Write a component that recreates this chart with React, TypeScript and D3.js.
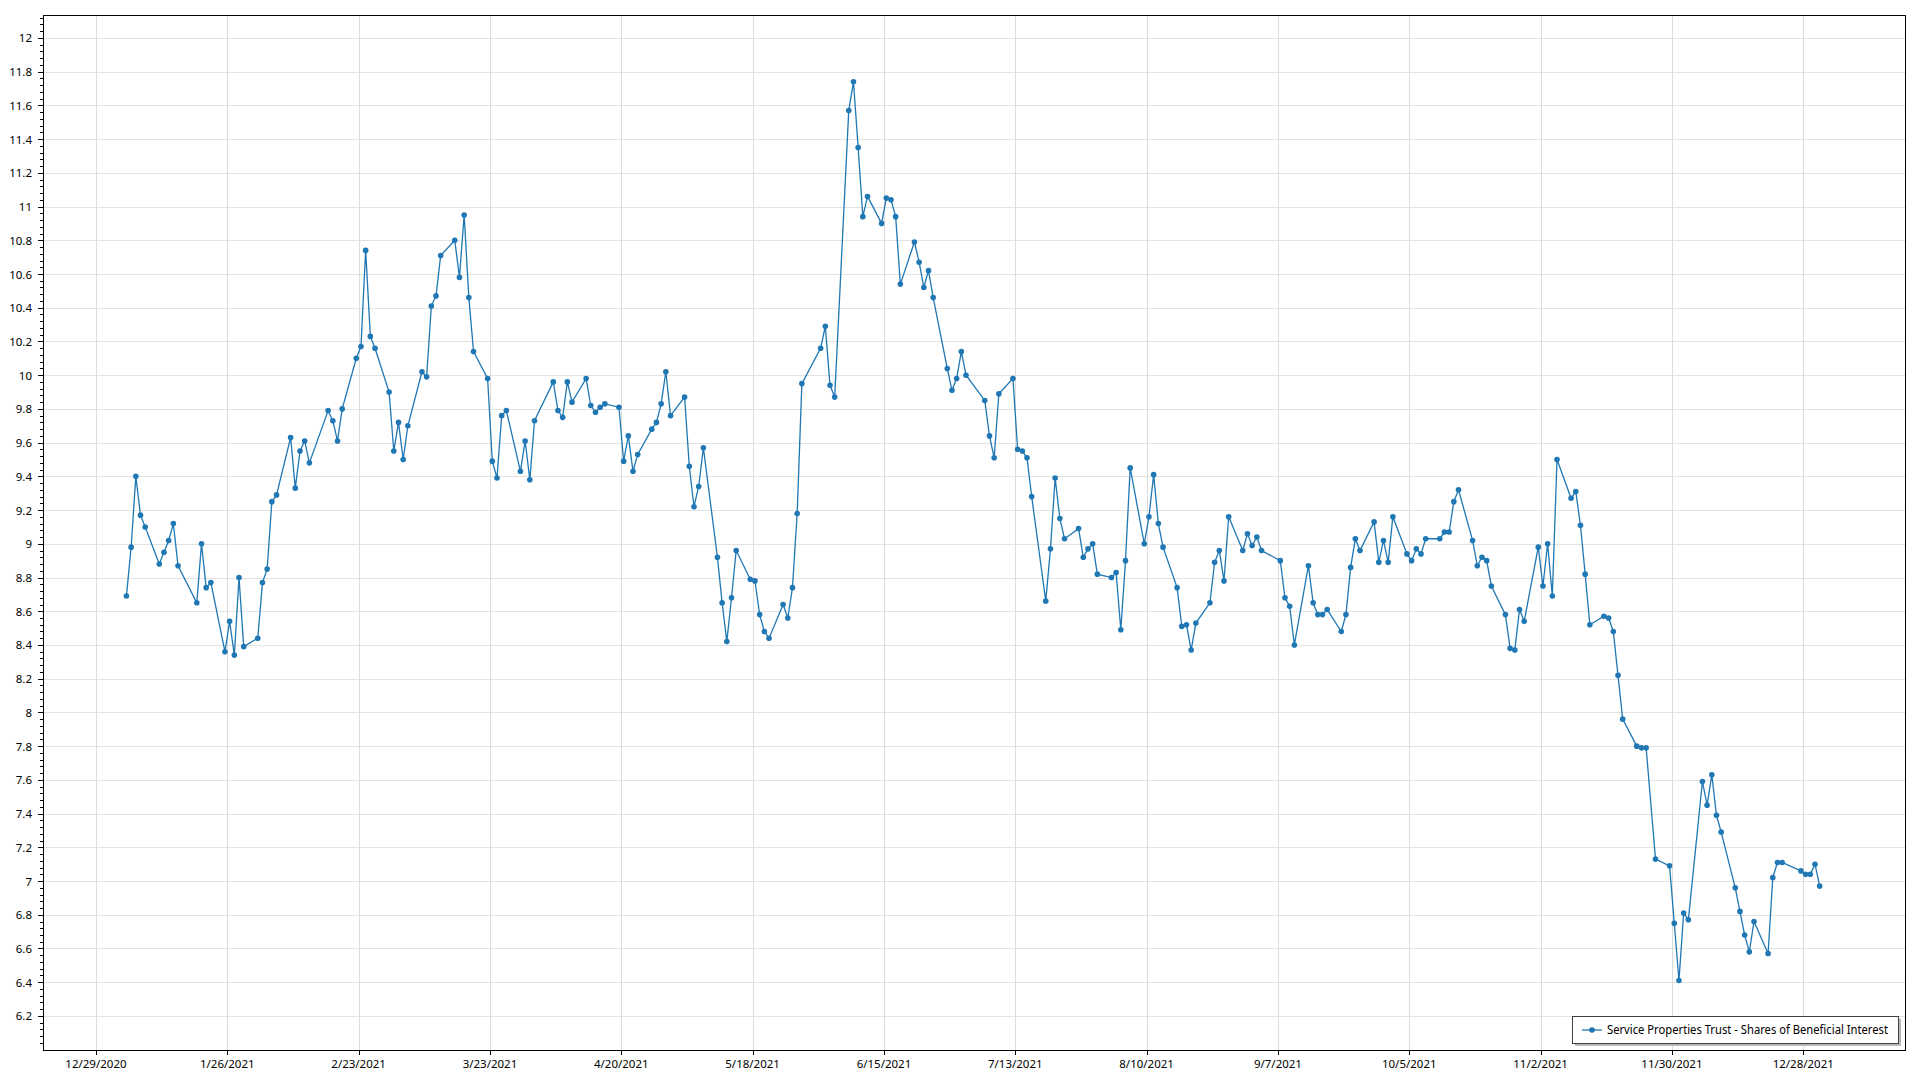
import React from "react";
import * as d3 from "d3";

const seriesName = "Service Properties Trust - Shares of Beneficial Interest";

const dates: string[] = [
  "2021-01-04","2021-01-05","2021-01-06","2021-01-07","2021-01-08","2021-01-11","2021-01-12","2021-01-13","2021-01-14","2021-01-15",
  "2021-01-19","2021-01-20","2021-01-21","2021-01-22","2021-01-25","2021-01-26","2021-01-27","2021-01-28","2021-01-29",
  "2021-02-01","2021-02-02","2021-02-03","2021-02-04","2021-02-05","2021-02-08","2021-02-09","2021-02-10","2021-02-11","2021-02-12",
  "2021-02-16","2021-02-17","2021-02-18","2021-02-19","2021-02-22","2021-02-23","2021-02-24","2021-02-25","2021-02-26",
  "2021-03-01","2021-03-02","2021-03-03","2021-03-04","2021-03-05","2021-03-08","2021-03-09","2021-03-10","2021-03-11","2021-03-12",
  "2021-03-15","2021-03-16","2021-03-17","2021-03-18","2021-03-19","2021-03-22","2021-03-23","2021-03-24","2021-03-25","2021-03-26",
  "2021-03-29","2021-03-30","2021-03-31","2021-04-01",
  "2021-04-05","2021-04-06","2021-04-07","2021-04-08","2021-04-09","2021-04-12","2021-04-13","2021-04-14","2021-04-15","2021-04-16",
  "2021-04-19","2021-04-20","2021-04-21","2021-04-22","2021-04-23","2021-04-26","2021-04-27","2021-04-28","2021-04-29","2021-04-30",
  "2021-05-03","2021-05-04","2021-05-05","2021-05-06","2021-05-07","2021-05-10","2021-05-11","2021-05-12","2021-05-13","2021-05-14",
  "2021-05-17","2021-05-18","2021-05-19","2021-05-20","2021-05-21","2021-05-24","2021-05-25","2021-05-26","2021-05-27","2021-05-28",
  "2021-06-01","2021-06-02","2021-06-03","2021-06-04","2021-06-07","2021-06-08","2021-06-09","2021-06-10","2021-06-11",
  "2021-06-14","2021-06-15","2021-06-16","2021-06-17","2021-06-18","2021-06-21","2021-06-22","2021-06-23","2021-06-24","2021-06-25",
  "2021-06-28","2021-06-29","2021-06-30","2021-07-01","2021-07-02",
  "2021-07-06","2021-07-07","2021-07-08","2021-07-09","2021-07-12","2021-07-13","2021-07-14","2021-07-15","2021-07-16",
  "2021-07-19","2021-07-20","2021-07-21","2021-07-22","2021-07-23","2021-07-26","2021-07-27","2021-07-28","2021-07-29","2021-07-30",
  "2021-08-02","2021-08-03","2021-08-04","2021-08-05","2021-08-06","2021-08-09","2021-08-10","2021-08-11","2021-08-12","2021-08-13",
  "2021-08-16","2021-08-17","2021-08-18","2021-08-19","2021-08-20","2021-08-23","2021-08-24","2021-08-25","2021-08-26","2021-08-27",
  "2021-08-30","2021-08-31","2021-09-01","2021-09-02","2021-09-03",
  "2021-09-07","2021-09-08","2021-09-09","2021-09-10","2021-09-13","2021-09-14","2021-09-15","2021-09-16","2021-09-17",
  "2021-09-20","2021-09-21","2021-09-22","2021-09-23","2021-09-24","2021-09-27","2021-09-28","2021-09-29","2021-09-30","2021-10-01",
  "2021-10-04","2021-10-05","2021-10-06","2021-10-07","2021-10-08","2021-10-11","2021-10-12","2021-10-13","2021-10-14","2021-10-15",
  "2021-10-18","2021-10-19","2021-10-20","2021-10-21","2021-10-22","2021-10-25","2021-10-26","2021-10-27","2021-10-28","2021-10-29",
  "2021-11-01","2021-11-02","2021-11-03","2021-11-04","2021-11-05","2021-11-08","2021-11-09","2021-11-10","2021-11-11","2021-11-12",
  "2021-11-15","2021-11-16","2021-11-17","2021-11-18","2021-11-19","2021-11-22","2021-11-23","2021-11-24","2021-11-26",
  "2021-11-29","2021-11-30","2021-12-01","2021-12-02","2021-12-03","2021-12-06","2021-12-07","2021-12-08","2021-12-09","2021-12-10",
  "2021-12-13","2021-12-14","2021-12-15","2021-12-16","2021-12-17","2021-12-20","2021-12-21","2021-12-22","2021-12-23",
  "2021-12-27","2021-12-28","2021-12-29","2021-12-30","2021-12-31"
];

const closes: number[] = [
  8.69, 8.98, 9.40, 9.17, 9.10, 8.88, 8.95, 9.02, 9.12, 8.87,
  8.65, 9.00, 8.74, 8.77, 8.36, 8.54, 8.34, 8.80, 8.39,
  8.44, 8.77, 8.85, 9.25, 9.29, 9.63, 9.33, 9.55, 9.61, 9.48,
  9.79, 9.73, 9.61, 9.80, 10.10, 10.17, 10.74, 10.23, 10.16,
  9.90, 9.55, 9.72, 9.50, 9.70, 10.02, 9.99, 10.41, 10.47, 10.71,
  10.80, 10.58, 10.95, 10.46, 10.14, 9.98, 9.49, 9.39, 9.76, 9.79,
  9.43, 9.61, 9.38, 9.73,
  9.96, 9.79, 9.75, 9.96, 9.84, 9.98, 9.82, 9.78, 9.81, 9.83,
  9.81, 9.49, 9.64, 9.43, 9.53, 9.68, 9.72, 9.83, 10.02, 9.76,
  9.87, 9.46, 9.22, 9.34, 9.57, 8.92, 8.65, 8.42, 8.68, 8.96,
  8.79, 8.78, 8.58, 8.48, 8.44, 8.64, 8.56, 8.74, 9.18, 9.95,
  10.16, 10.29, 9.94, 9.87, 11.57, 11.74, 11.35, 10.94, 11.06,
  10.90, 11.05, 11.04, 10.94, 10.54, 10.79, 10.67, 10.52, 10.62, 10.46,
  10.04, 9.91, 9.98, 10.14, 10.00,
  9.85, 9.64, 9.51, 9.89, 9.98, 9.56, 9.55, 9.51, 9.28,
  8.66, 8.97, 9.39, 9.15, 9.03, 9.09, 8.92, 8.97, 9.00, 8.82,
  8.80, 8.83, 8.49, 8.90, 9.45, 9.00, 9.16, 9.41, 9.12, 8.98,
  8.74, 8.51, 8.52, 8.37, 8.53, 8.65, 8.89, 8.96, 8.78, 9.16,
  8.96, 9.06, 8.99, 9.04, 8.96,
  8.90, 8.68, 8.63, 8.40, 8.87, 8.65, 8.58, 8.58, 8.61,
  8.48, 8.58, 8.86, 9.03, 8.96, 9.13, 8.89, 9.02, 8.89, 9.16,
  8.94, 8.90, 8.97, 8.94, 9.03, 9.03, 9.07, 9.07, 9.25, 9.32,
  9.02, 8.87, 8.92, 8.90, 8.75, 8.58, 8.38, 8.37, 8.61, 8.54,
  8.98, 8.75, 9.00, 8.69, 9.50, 9.27, 9.31, 9.11, 8.82, 8.52,
  8.57, 8.56, 8.48, 8.22, 7.96, 7.80, 7.79, 7.79, 7.13,
  7.09, 6.75, 6.41, 6.81, 6.77, 7.59, 7.45, 7.63, 7.39, 7.29,
  6.96, 6.82, 6.68, 6.58, 6.76, 6.57, 7.02, 7.11, 7.11,
  7.06, 7.04, 7.04, 7.10, 6.97
];

const xTickDates: string[] = [
  "2020-12-29","2021-01-26","2021-02-23","2021-03-23","2021-04-20","2021-05-18","2021-06-15",
  "2021-07-13","2021-08-10","2021-09-07","2021-10-05","2021-11-02","2021-11-30","2021-12-28"
];

const yTickLabels: string[] = [
  "6.2","6.4","6.6","6.8","7","7.2","7.4","7.6","7.8","8","8.2","8.4","8.6","8.8","9",
  "9.2","9.4","9.6","9.8","10","10.2","10.4","10.6","10.8","11","11.2","11.4","11.6","11.8","12"
];

const DAY = 86400000;
const parse = d3.utcParse("%Y-%m-%d");
const fmt = d3.utcFormat("%-m/%-d/%Y");

export default function App() {
  const W = 1920, H = 1080;
  const left = 43, top = 15, right = 1905, bottom = 1050;
  const base = parse("2020-12-29")!.getTime();
  const x = d3.scaleUtc()
    .domain([new Date(base - 11.29 * DAY), new Date(base + 385.69 * DAY)])
    .range([left, right]);
  const y = d3.scaleLinear().domain([5.998, 12.136]).range([bottom, top]);

  const pts = dates.map((d, i) => ({ t: new Date(parse(d)!.getTime() + 0.5 * DAY), v: closes[i] }));
  const line = d3.line<{ t: Date; v: number }>().x(p => x(p.t)).y(p => y(p.v));

  const yTicks = yTickLabels.map(s => +s);
  const minorTicks: number[] = [];
  for (let v = 6.04; v < 12.13; v += 0.04) {
    const r = Math.round(v * 100) / 100;
    if (Math.abs(r / 0.2 - Math.round(r / 0.2)) > 0.01) minorTicks.push(r);
  }
  const xTicks = xTickDates.map(s => parse(s)!);
  const font = "'Segoe UI', 'Noto Sans', 'Open Sans', sans-serif";
  const color = "#1f77b4";

  return (
    <svg width={W} height={H} style={{ position: "absolute", left: 0, top: 0, display: "block", background: "#fff" }}>
      <g>
        {yTicks.map((v, i) => (
          <line key={"gy" + i} x1={left} x2={right} y1={Math.round(y(v)) + 0.5} y2={Math.round(y(v)) + 0.5} stroke="#e2e2e2" strokeWidth={1} />
        ))}
        {xTicks.map((t, i) => (
          <line key={"gx" + i} x1={Math.round(x(t)) + 0.5} x2={Math.round(x(t)) + 0.5} y1={top} y2={bottom} stroke="#dcdcdc" strokeWidth={1} />
        ))}
      </g>
      <path d={line(pts) || ""} fill="none" stroke={color} strokeWidth={1.3} />
      {pts.map((p, i) => (
        <circle key={"p" + i} cx={x(p.t)} cy={y(p.v)} r={2.8} fill={color} />
      ))}
      <rect x={left + 0.5} y={top + 0.5} width={right - left} height={bottom - top} fill="none" stroke="#000" strokeWidth={1} />
      {yTicks.map((v, i) => (
        <g key={"ty" + i}>
          <line x1={left - 5} x2={left} y1={Math.round(y(v)) + 0.5} y2={Math.round(y(v)) + 0.5} stroke="#000" />
          <text x={32} y={y(v)} textAnchor="end" dominantBaseline="central" fontFamily={font} fontSize={11.5} fill="#000">{yTickLabels[i]}</text>
        </g>
      ))}
      {minorTicks.map((v, i) => (
        <line key={"my" + i} x1={left - 3} x2={left} y1={Math.round(y(v)) + 0.5} y2={Math.round(y(v)) + 0.5} stroke="#000" />
      ))}
      {xTicks.map((t, i) => (
        <g key={"tx" + i}>
          <line x1={Math.round(x(t)) + 0.5} x2={Math.round(x(t)) + 0.5} y1={bottom} y2={bottom + 5} stroke="#000" />
          <text x={x(t)} y={1063} textAnchor="middle" dominantBaseline="central" fontFamily={font} fontSize={11.5} fill="#000">{fmt(t)}</text>
        </g>
      ))}
      <g>
        <rect x={1575} y={1019} width={326} height={27} fill="#b8b8b8" />
        <rect x={1572.5} y={1016.5} width={326} height={27} fill="#fff" stroke="#404040" strokeWidth={1} />
        <line x1={1582} x2={1602} y1={1030} y2={1030} stroke={color} strokeWidth={1.3} />
        <circle cx={1592} cy={1030} r={2.8} fill={color} />
        <text x={1607} y={1029.5} dominantBaseline="central" fontFamily={font} fontSize={12} textLength={281} lengthAdjust="spacingAndGlyphs" fill="#000">{seriesName}</text>
      </g>
    </svg>
  );
}
